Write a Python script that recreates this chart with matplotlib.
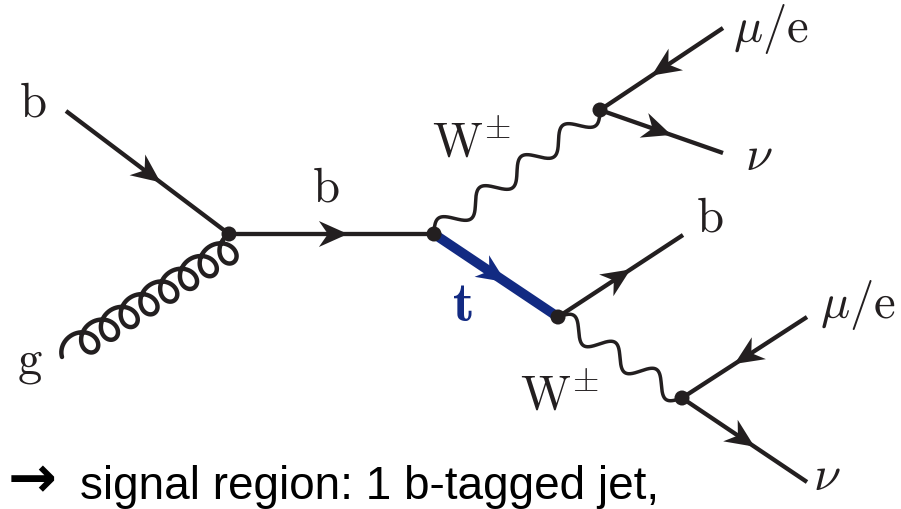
import numpy as np
import matplotlib.pyplot as plt
from matplotlib.patches import Polygon, Circle

plt.rcParams['mathtext.fontset'] = 'cm'

INK = '#231f20'
TOP = '#122a82'

# diagram points, in picture pixels (y grows downwards)
b_in = (66, 111)
g_in = (62, 357)
v_bg = (229, 234)
v_tb = (434, 234)
v_w1 = (600, 110)
v_t = (558, 317)
v_w2 = (682, 398)
lep1 = (723, 28)
nu1 = (723, 153)
b_out = (683, 235)
lep2 = (807, 317)
nu2 = (807, 482)

# fermion lines, drawn in the direction of the arrow
fermions = [(b_in, v_bg), (v_bg, v_tb), (lep1, v_w1), (v_w1, nu1),
            (v_t, b_out), (lep2, v_w2), (v_w2, nu2)]
top_quark = (v_tb, v_t)
w_bosons = [(v_tb, v_w1, 4), (v_t, v_w2, 3)]
gluon = (g_in, v_bg, 8)
vertices = [v_bg, v_tb, v_w1, v_t, v_w2]

labels = [r'$\mathrm{b}$', r'$\mathrm{g}$', r'$\mathrm{b}$', r'$\mathrm{W}^{\pm}$',
          r'$\mu/\mathrm{e}$', r'$\nu$', r'$\mathrm{b}$', r'$\mathbf{t}$',
          r'$\mathrm{W}^{\pm}$', r'$\mu/\mathrm{e}$', r'$\nu$']
label_x = [19, 17, 312, 432, 733, 745, 696, 452, 520, 820, 813]
label_y = [116, 373, 202, 157, 42, 170, 232, 321, 410, 318, 490]
label_size = [35] * 7 + [40] + [35] * 3
label_col = [INK] * 7 + [TOP] + [INK] * 3

caption_arrow = '\u2192'
caption = 'signal region: 1 b-tagged jet,'


def frame(a, b):
    a = np.array(a, float)
    b = np.array(b, float)
    d = b - a
    L = np.hypot(*d)
    u = d / L
    n = np.array([u[1], -u[0]])
    return a, u, n, L


def arrow_head(ax, a, b, color, frac=0.58):
    a, u, n, L = frame(a, b)
    tip = a + u * L * frac
    pts = [tip, tip - 29 * u + 13 * n, tip - 20 * u, tip - 29 * u - 13 * n]
    ax.add_patch(Polygon(pts, closed=True, fc=color, ec='none', zorder=3))


def wave(ax, a, b, periods, amp=10):
    a, u, n, L = frame(a, b)
    s = np.linspace(0, L, 500)
    pts = a + np.outer(s, u) + np.outer(amp * np.sin(2 * np.pi * periods * s / L), n)
    ax.plot(pts[:, 0], pts[:, 1], color=INK, lw=2.5, solid_capstyle='round', zorder=2)


def curly(ax, a, b, loops, r=13.0, step=3.7):
    th = np.linspace(np.pi / 2, np.pi + 2 * np.pi * loops, 2000)
    x = step * (th - th[0]) - r * (np.sin(th) - 1)
    y = -r * np.cos(th)
    z = x - 1j * y
    za = complex(*a)
    zb = complex(*b)
    zi = za + z * (zb - za) / z[-1]
    ax.plot(zi.real, zi.imag, color=INK, lw=3.2, solid_capstyle='round', zorder=2)


fig = plt.figure(figsize=(9.01, 5.09), dpi=100)
ax = fig.add_axes([0, 0, 1, 1])
ax.set_xlim(0, 901)
ax.set_ylim(509, 0)
ax.axis('off')

for a, b in fermions:
    ax.plot([a[0], b[0]], [a[1], b[1]], color=INK, lw=3.1, solid_capstyle='butt', zorder=2)
    arrow_head(ax, a, b, INK)

a, b = top_quark
ax.plot([a[0], b[0]], [a[1], b[1]], color=TOP, lw=7.0, solid_capstyle='butt', zorder=2)
arrow_head(ax, a, b, TOP)

for a, b, k in w_bosons:
    wave(ax, a, b, k)

curly(ax, *gluon)

for v in vertices:
    ax.add_patch(Circle(v, 7.5, fc=INK, ec='none', zorder=4))

for s, x, y, fs, c in zip(labels, label_x, label_y, label_size, label_col):
    ax.text(x, y, s, fontsize=fs, color=c, ha='left', va='baseline')

ax.text(8, 497, caption_arrow, fontsize=42, fontweight='bold', color='black',
        ha='left', va='baseline', family=['DejaVu Sans'])
ax.text(80, 499, caption, fontsize=33, color='black', ha='left', va='baseline',
        family=['Liberation Sans', 'DejaVu Sans'])

fig.savefig('out.png', dpi=100)
